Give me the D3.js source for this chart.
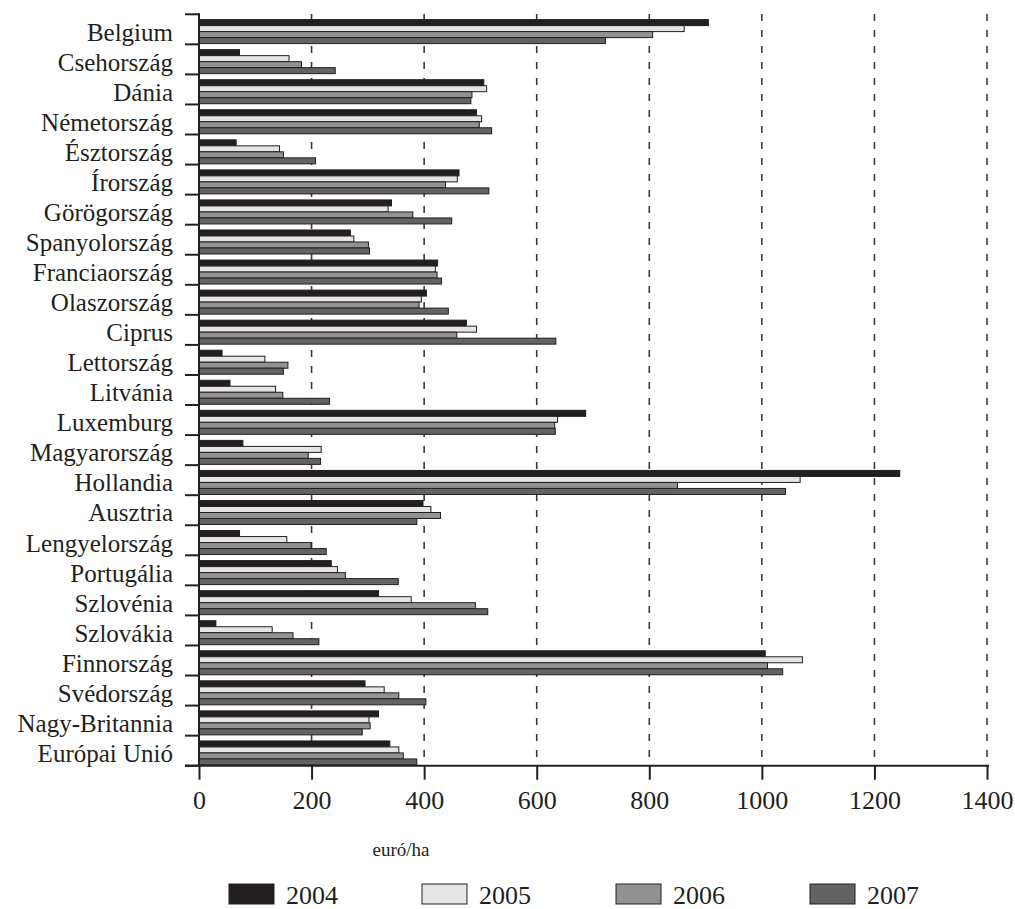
<!DOCTYPE html>
<html>
<head>
<meta charset="utf-8">
<script src="https://cdn.jsdelivr.net/npm/d3@7"></script>
<style>
  html, body { margin: 0; padding: 0; background: #fff; }
  svg { display: block; }
  text { font-family: "Liberation Serif", "Times New Roman", serif; fill: #231f20; }
</style>
</head>
<body>
<svg id="chart" width="1015" height="909"></svg>
<script>
const categories = ["Belgium","Csehország","Dánia","Németország","Észtország","Írország","Görögország","Spanyolország","Franciaország","Olaszország","Ciprus","Lettország","Litvánia","Luxemburg","Magyarország","Hollandia","Ausztria","Lengyelország","Portugália","Szlovénia","Szlovákia","Finnország","Svédország","Nagy-Britannia","Európai Unió"];
const years = ["2004","2005","2006","2007"];
const values2004 = [905,72,506,493,66,462,342,269,424,404,475,41,55,687,78,1245,398,72,235,319,30,1006,295,319,339];
const values2005 = [862,160,511,502,143,459,336,275,420,395,493,117,136,637,217,1068,412,156,246,377,130,1072,329,302,355];
const values2006 = [806,182,485,498,150,438,380,301,423,391,458,158,149,632,194,850,429,199,260,491,167,1010,355,304,363];
const values2007 = [722,242,483,520,207,515,449,303,431,443,634,150,232,633,216,1042,387,226,354,513,213,1037,403,290,387];
const xTicks = [0,200,400,600,800,1000,1200,1400];
const xLabel = "euró/ha";
const colors = {"2004":"#231f20","2005":"#e5e5e5","2006":"#929292","2007":"#636363"};

const series = {"2004":values2004,"2005":values2005,"2006":values2006,"2007":values2007};
const rows = [];
categories.forEach((c,i)=>years.forEach(y=>rows.push({cat:c,year:y,value:series[y][i]})));

const svg = d3.select("#chart");
const x = d3.scaleLinear().domain([0,1400]).range([199,987]);
const y = d3.scaleBand().domain(categories).range([14.3,765.7]).padding(0);
const yInner = d3.scaleBand().domain(years).range([5.3, 29.3]).padding(0);

// gridlines
svg.append("g").selectAll("line").data(xTicks.filter(d=>d>0)).join("line")
  .attr("x1",d=>x(d)).attr("x2",d=>x(d))
  .attr("y1",14).attr("y2",765)
  .attr("stroke","#3a3a3a").attr("stroke-width",1.6)
  .attr("stroke-dasharray","7,9");

// bars
svg.append("g").selectAll("rect").data(rows).join("rect")
  .attr("x",x(0))
  .attr("y",d=>y(d.cat)+yInner(d.year))
  .attr("width",d=>x(d.value)-x(0))
  .attr("height",yInner.bandwidth())
  .attr("fill",d=>colors[d.year])
  .attr("stroke","#231f20").attr("stroke-width",1);

// left axis labels
const gy = svg.append("g").attr("transform",`translate(${x(0)},0)`)
  .call(d3.axisLeft(y).tickSize(0).tickPadding(26));
gy.select(".domain").remove();
gy.selectAll("text").attr("font-size",25).attr("font-family","Liberation Serif").attr("dy","0.45em").attr("fill","#231f20");

// left axis boundary ticks
const bounds = categories.map(c=>y(c)).concat([y.range()[1]]);
svg.append("g").selectAll("line").data(bounds).join("line")
  .attr("x1",185).attr("x2",x(0)).attr("y1",d=>d).attr("y2",d=>d)
  .attr("stroke","#231f20").attr("stroke-width",2);
svg.append("line").attr("x1",x(0)).attr("x2",x(0)).attr("y1",13.3).attr("y2",766.7)
  .attr("stroke","#231f20").attr("stroke-width",2);

// bottom axis
const gx = svg.append("g").attr("transform","translate(0,765.7)")
  .call(d3.axisBottom(x).tickValues(xTicks).tickFormat(d3.format("d")).tickSize(14).tickPadding(10.5).tickSizeOuter(0));
gx.select(".domain").remove();
gx.selectAll(".tick line").attr("stroke","#231f20").attr("stroke-width",2);
gx.selectAll("text").attr("font-size",26).attr("font-family","Liberation Serif").attr("fill","#231f20");
svg.append("line").attr("x1",185).attr("x2",989).attr("y1",765.7).attr("y2",765.7)
  .attr("stroke","#231f20").attr("stroke-width",2);

// x label
svg.append("text").attr("x",401).attr("y",856).attr("text-anchor","middle")
  .attr("font-size",19).text(xLabel);

// legend
const legX = d3.scaleOrdinal().domain(years).range([229,422,616,810]);
const leg = svg.append("g").selectAll("g").data(years).join("g")
  .attr("transform",d=>`translate(${legX(d)},884)`);
leg.append("rect").attr("width",45).attr("height",20)
  .attr("fill",d=>colors[d]).attr("stroke","#231f20").attr("stroke-width",1);
leg.append("text").attr("x",57).attr("y",20).attr("font-size",26).text(d=>d);
</script>
</body>
</html>
